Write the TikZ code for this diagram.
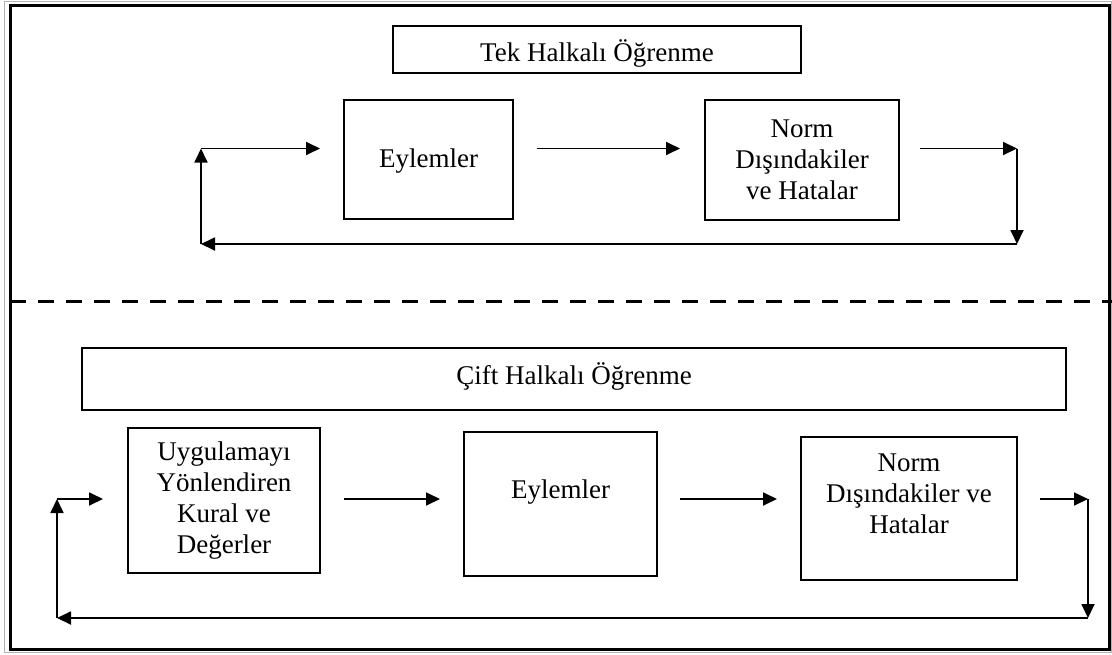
\documentclass[tikz,border=0pt]{standalone}
\usepackage{fontspec}
\setmainfont{Liberation Serif}
\usetikzlibrary{arrows.meta}
\begin{document}
\begin{tikzpicture}[x=1pt,y=-1pt,
  box/.style={draw, line width=1.6pt, inner sep=0pt, font=\fontsize{27}{31}\selectfont, align=center},
  txt/.style={inner sep=0pt, font=\fontsize{27}{31}\selectfont, align=center},
  arr/.style={line width=1.8pt, -{Triangle[length=14pt,width=13pt]}},
  frameout/.style={draw=gray!60, line width=1.5pt},
  framein/.style={draw=black, line width=3pt},
  divider/.style={line width=3pt, dash pattern=on 16pt off 12pt}
]
\useasboundingbox (0,0) rectangle (1112,654);
% frame
\draw[frameout] (4.5,1.5) rectangle (1111.5,652.5);
\draw[framein] (10.5,5.5) rectangle (1109,649.5);
\coordinate (dl) at (10,301);
\coordinate (dr) at (1112,301);
\draw[divider] (dl) -- (dr);

% ---- top section
\node[box, minimum width=408pt, text height=35pt, text depth=12pt, anchor=base] (tek) at (597,61) {Tek Halkalı Öğrenme};
\node[box, minimum width=169pt, text height=67pt, text depth=52pt, anchor=base] (e1) at (428.5,167) {Eylemler};
\node[box, minimum width=194pt, minimum height=120pt] (n1) at (802,160) {Norm\\Dışındakiler\\ve Hatalar};

\coordinate (t1) at (201,148.5);
\coordinate (t2) at (320,148.5);
\coordinate (t3) at (537,148.5);
\coordinate (t4) at (680,148.5);
\coordinate (t5) at (920,148.5);
\coordinate (t6) at (1017,148.5);
\coordinate (t7) at (1017,244);
\coordinate (t8) at (201,244);
\draw[arr] (t8) -- (t1);
\draw[arr] (t1) -- (t2);
\draw[arr] (t3) -- (t4);
\draw[arr] (t5) -- (t6);
\draw[arr] (t6) -- (t7);
\draw[arr] (t7) -- (t8);

% ---- bottom section
\node[box, minimum width=984pt, text height=36pt, text depth=26pt, anchor=base] (cift) at (574,384) {Çift Halkalı Öğrenme};
\node[box, minimum width=192pt, minimum height=145pt] (k1) at (224,500.5) {Uygulamayı\\Yönlendiren\\Kural ve\\Değerler};
\node[box, minimum width=193pt, text height=66pt, text depth=78pt, anchor=base] (e2) at (560.5,498) {Eylemler};
\node[box, minimum width=216pt, minimum height=143pt] (n2) at (909,508.5) {};
\node[txt, anchor=north] (n2t) at (909,454) {Norm\\Dışındakiler ve\\Hatalar};

\coordinate (b1) at (57,499);
\coordinate (b2) at (103,499);
\coordinate (b3) at (344,499);
\coordinate (b4) at (440,499);
\coordinate (b5) at (680,499);
\coordinate (b6) at (777,499);
\coordinate (b7) at (1040,499);
\coordinate (b8) at (1088,499);
\coordinate (b9) at (1088,618);
\coordinate (b10) at (57,618);
\draw[arr] (b10) -- (b1);
\draw[arr] (b1) -- (b2);
\draw[arr] (b3) -- (b4);
\draw[arr] (b5) -- (b6);
\draw[arr] (b7) -- (b8);
\draw[arr] (b8) -- (b9);
\draw[arr] (b9) -- (b10);
\end{tikzpicture}
\end{document}
